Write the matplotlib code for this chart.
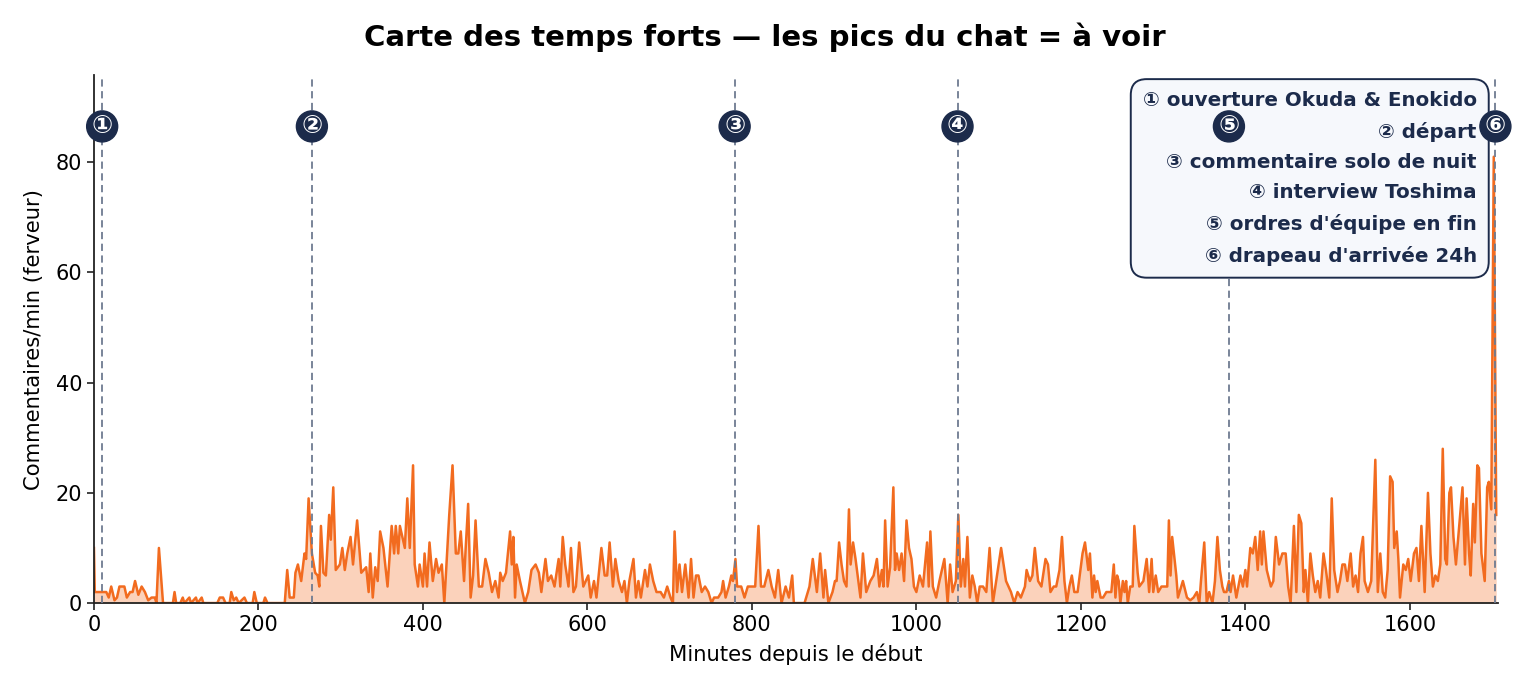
import matplotlib
matplotlib.use("Agg")
import matplotlib.pyplot as plt
from matplotlib.transforms import blended_transform_factory

plt.rcParams["font.family"] = ["DejaVu Sans", "Noto Sans CJK JP"]

ORANGE = "#f26b1f"
NAVY = "#1c2b4b"
DASH = "#6e7b91"

# minute since start, comments per minute
minute = [
    0, 1, 3, 8, 12, 15, 18, 21, 25, 28, 31, 34, 37, 40, 44, 47, 50, 54, 58, 62,
    66, 70, 74, 76, 79, 84, 90, 96, 98, 100, 105, 108, 110, 116, 118, 124, 126, 131, 133, 140,
    150, 153, 157, 160, 165, 167, 170, 173, 176, 183, 186, 193, 195, 198, 206, 208, 211, 232, 235, 238,
    243, 245, 248, 252, 256, 258, 261, 265, 269, 272, 274, 276, 279, 282, 286, 288, 291, 294, 299, 302,
    305, 308, 312, 315, 320, 325, 331, 334, 336, 339, 342, 345, 348, 352, 357, 362, 365, 367, 370, 372,
    378, 381, 384, 388, 390, 394, 396, 400, 402, 405, 408, 412, 416, 419, 423, 426, 432, 436, 440, 443,
    446, 450, 452, 455, 458, 461, 464, 468, 472, 476, 480, 484, 488, 492, 494, 497, 501, 506, 508, 510,
    512, 514, 518, 521, 524, 528, 532, 537, 541, 544, 549, 552, 556, 560, 565, 567, 570, 573, 577, 580,
    583, 586, 590, 595, 601, 604, 608, 611, 617, 621, 624, 627, 631, 634, 638, 642, 645, 648, 651, 656,
    659, 662, 665, 670, 673, 676, 680, 684, 689, 693, 697, 701, 704, 706, 709, 712, 715, 719, 723, 726,
    729, 732, 735, 739, 743, 747, 751, 754, 759, 763, 765, 768, 772, 775, 777, 780, 782, 787, 791, 795,
    800, 804, 808, 811, 815, 820, 824, 828, 832, 836, 841, 845, 849, 851, 864, 870, 874, 879, 883, 887,
    889, 893, 898, 901, 903, 906, 909, 912, 915, 918, 920, 923, 926, 932, 935, 939, 944, 948, 952, 955,
    958, 960, 962, 965, 968, 972, 974, 976, 979, 982, 985, 988, 991, 994, 997, 1000, 1004, 1008, 1013, 1015,
    1017, 1020, 1024, 1028, 1034, 1038, 1041, 1044, 1048, 1051, 1054, 1057, 1059, 1062, 1065, 1068, 1071, 1074, 1077, 1081,
    1085, 1089, 1093, 1097, 1103, 1109, 1115, 1119, 1123, 1127, 1132, 1134, 1138, 1141, 1144, 1148, 1152, 1157, 1160, 1163,
    1167, 1170, 1174, 1177, 1180, 1183, 1186, 1189, 1192, 1196, 1202, 1205, 1209, 1211, 1214, 1216, 1218, 1220, 1224, 1227,
    1231, 1237, 1240, 1242, 1244, 1246, 1248, 1251, 1253, 1255, 1257, 1260, 1263, 1265, 1269, 1271, 1276, 1280, 1283, 1286,
    1288, 1291, 1294, 1298, 1302, 1305, 1307, 1309, 1311, 1316, 1318, 1324, 1329, 1333, 1337, 1341, 1344, 1346, 1350, 1353,
    1356, 1360, 1363, 1366, 1369, 1372, 1374, 1377, 1380, 1382, 1385, 1389, 1394, 1397, 1400, 1402, 1406, 1409, 1412, 1415,
    1418, 1420, 1422, 1426, 1431, 1434, 1437, 1441, 1445, 1449, 1452, 1455, 1459, 1462, 1465, 1468, 1471, 1473, 1476, 1479,
    1482, 1485, 1488, 1491, 1495, 1498, 1502, 1505, 1508, 1512, 1515, 1518, 1521, 1524, 1528, 1531, 1534, 1537, 1540, 1543,
    1545, 1549, 1553, 1558, 1561, 1564, 1567, 1570, 1573, 1576, 1579, 1581, 1584, 1586, 1588, 1592, 1595, 1598, 1601, 1605,
    1608, 1611, 1614, 1618, 1622, 1625, 1628, 1631, 1634, 1637, 1640, 1643, 1645, 1648, 1650, 1653, 1656, 1660, 1664, 1667,
    1669, 1672, 1674, 1677, 1679, 1682, 1684, 1687, 1691, 1694, 1696, 1699, 1702, 1705,
]
per_min = [
    10, 2, 2, 2, 2, 2, 1, 3, 0.5, 1, 3, 3, 3, 1, 2, 2, 4, 1.5, 3, 2,
    0.5, 1, 1, 0, 10, 0, 0, 0, 2, 0, 0, 1, 0, 1, 0, 1, 0, 1, 0, 0,
    0, 1, 1, 0, 0, 2, 0.5, 1, 0, 1, 0, 0, 2, 0, 0, 1, 0, 0, 6, 1,
    1, 5.5, 7, 4, 9, 8, 19, 9, 5.5, 5, 3, 14, 5.5, 5, 16, 11.5, 21, 6, 7, 10,
    6, 9, 12, 7, 15, 5.5, 6.5, 2, 9, 1, 6.5, 4, 13, 10, 3, 14, 9, 14, 9, 14,
    10, 19, 10, 25, 7, 3, 7, 3, 9, 3, 11, 4, 8, 5.5, 7, 0, 16, 25, 9, 9,
    13, 4, 10, 18, 1, 5, 15, 3, 3, 8, 5.5, 2, 4, 1, 5.5, 4, 5.5, 13, 7, 12,
    1, 7, 4, 2, 0, 2, 6, 7, 5.5, 2, 8, 4, 5, 3, 8, 3, 12, 7, 3, 10,
    2, 3, 11, 3, 5, 1, 4, 1, 10, 5, 5, 11, 3, 8, 4, 2, 4, 0, 4, 8,
    1, 4, 1, 6, 3, 7, 4, 2, 2, 1, 3, 1, 0, 13, 2, 7, 2, 7, 1, 8,
    1, 5, 5, 2, 3, 2, 0, 1, 1, 2, 4, 1, 3, 5, 4, 8, 3, 3, 1, 3,
    3, 3, 14, 3, 3, 6, 3, 1, 6, 0, 3, 1, 5, 0, 0, 3, 8, 2, 9, 1,
    6, 0, 2, 4, 4, 11, 7, 4, 3, 17, 7, 11, 8, 1, 9, 2, 4, 5, 8, 3,
    6, 3, 15, 3, 6.5, 21, 6, 9, 6, 9, 4, 15, 10, 8, 3, 2, 5, 3, 11, 3,
    13, 3, 1, 4, 8, 0, 7, 2, 4, 16, 3, 8, 3, 12, 1, 5, 3, 0, 3, 3,
    2, 10, 0, 4, 10, 4, 2, 0, 2, 1, 3, 6, 4, 5, 10, 4, 3, 8, 7, 2,
    3, 3, 6, 12, 4, 0, 3, 5, 2, 2, 9, 11, 6, 9, 1, 5, 2, 4, 1, 1,
    2, 2, 7, 1, 5, 4, 0, 4, 2, 4, 0, 3, 3, 14, 5.5, 3, 4, 8, 2, 8,
    2, 5, 2, 3, 3, 3, 15, 5, 12, 5, 1, 4, 1, 0.5, 1, 2, 0, 4, 11, 0,
    2, 0, 4, 12, 6, 3, 2, 2, 4, 2, 5, 1, 5, 3, 6, 3, 10, 9, 12, 6,
    13, 7, 13, 6, 3, 4, 12, 7, 9, 9, 3, 0, 14, 2, 16, 14.5, 2, 6, 0, 9,
    5, 2, 4, 1, 9, 6, 1, 19, 6, 2, 4, 7, 7, 4, 9, 3, 5, 2, 9, 12,
    4, 2, 4, 26, 2, 9, 2, 1, 6, 23, 22, 10, 13, 8, 1, 7, 6, 8, 4, 9,
    10, 4, 14, 2, 20, 9, 3, 5, 4, 7, 28, 8, 7, 20, 21, 12, 7, 14, 21, 7,
    19, 9, 5, 18, 11, 25, 24.5, 9, 4, 21, 22, 17, 81, 16,
]

highlight_min = [10, 265, 779, 1050, 1380, 1704]
highlight_tag = ["①", "②", "③", "④", "⑤", "⑥"]
highlight_text = [
    "ouverture Okuda & Enokido",
    "départ",
    "commentaire solo de nuit",
    "interview Toshima",
    "ordres d'équipe en fin",
    "drapeau d'arrivée 24h",
]

fig = plt.figure(figsize=(15.3, 6.9), dpi=100)
ax = fig.add_axes([0.0614, 0.126, 0.9176, 0.765])

ax.fill_between(minute, per_min, 0, color=ORANGE, alpha=0.3, linewidth=0, zorder=1)
ax.plot(minute, per_min, color=ORANGE, linewidth=1.8, zorder=2)

ax.set_xlim(0, 1707)
ax.set_ylim(0, 95.8)
ax.set_yticks([0, 20, 40, 60, 80])
ax.set_xticks([0, 200, 400, 600, 800, 1000, 1200, 1400, 1600])
ax.tick_params(labelsize=15, length=5, width=1.2, color="#222222")
for side in ("top", "right"):
    ax.spines[side].set_visible(False)
for side in ("left", "bottom"):
    ax.spines[side].set_color("#222222")
    ax.spines[side].set_linewidth(1.3)

ax.set_xlabel("Minutes depuis le début", fontsize=15.2, labelpad=6)
ax.set_ylabel("Commentaires/min (ferveur)", fontsize=15.2, labelpad=8)

trans = blended_transform_factory(ax.transData, ax.transAxes)
for m, tag in zip(highlight_min, highlight_tag):
    ax.axvline(m, color=DASH, linestyle=(0, (4, 2.5)), linewidth=1.3, zorder=3)
    ax.text(m, 0.903, tag, transform=trans, ha="center", va="center",
            color="white", fontsize=18, fontweight="bold", zorder=6,
            bbox=dict(boxstyle="circle,pad=0.14", facecolor=NAVY, edgecolor=NAVY))

legend_text = "\n".join(f"{t} {s}" for t, s in zip(highlight_tag, highlight_text))
ax.text(0.985, 0.97, legend_text, transform=ax.transAxes, ha="right", va="top",
        multialignment="right", fontsize=14.3, fontweight="bold", color=NAVY,
        linespacing=1.74, zorder=5,
        bbox=dict(boxstyle="round,pad=0.6,rounding_size=0.8",
                  facecolor="#f6f8fc", edgecolor=NAVY, linewidth=1.4))

fig.suptitle("Carte des temps forts — les pics du chat = à voir",
             fontsize=21, fontweight="bold", y=0.967)

fig.savefig("out.png", dpi=100, facecolor="white")
